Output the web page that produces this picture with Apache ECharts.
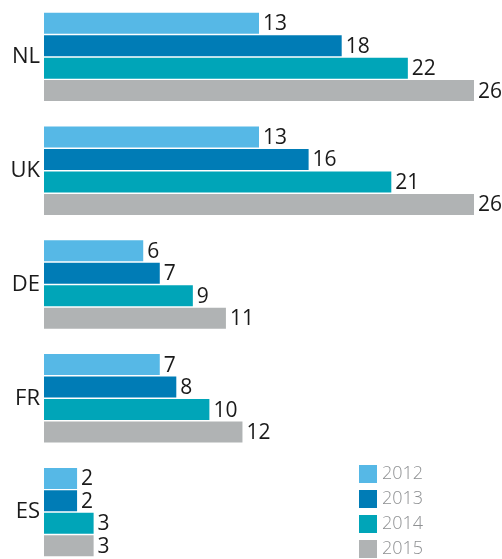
<!DOCTYPE html>
<html>
<head>
<meta charset="utf-8">
<script src="https://cdn.jsdelivr.net/npm/echarts@6/dist/echarts.min.js"></script>
<style>
  html, body { margin: 0; padding: 0; background: #fff; overflow: hidden; }
  #chart { width: 502px; height: 569px; }
</style>
</head>
<body>
<div id="chart"></div>
<script>
// Countries and yearly values
const countries = ['NL', 'UK', 'DE', 'FR', 'ES'];
const years = ['2012', '2013', '2014', '2015'];
const values2012 = [13, 13, 6, 7, 2];
const values2013 = [18, 16, 7, 8, 2];
const values2014 = [22, 21, 9, 10, 3];
const values2015 = [26, 26, 11, 12, 3];
const colors = ['#56b8e6', '#007cb6', '#00a5b8', '#b0b3b4'];

const seriesData = [values2012, values2013, values2014, values2015];

const chart = echarts.init(document.getElementById('chart'), null, { renderer: 'canvas' });

chart.setOption({
  animation: false,
  textStyle: { fontFamily: 'Open Sans' },
  grid: { left: 44, right: 28, top: 0, bottom: 0, containLabel: false },
  legend: {
    orient: 'vertical',
    left: 359,
    top: 465,
    padding: 0,
    itemWidth: 18,
    itemHeight: 18,
    itemGap: 7,
    icon: 'rect',
    textStyle: {
      color: '#8e9092',
      fontSize: 18,
      fontWeight: 300,
      fontFamily: 'Open Sans',
      padding: [3, 0, 0, 0]
    },
    data: years
  },
  xAxis: {
    type: 'value',
    min: 0,
    max: 26,
    show: false
  },
  yAxis: {
    type: 'category',
    inverse: true,
    data: countries,
    axisLine: { show: false },
    axisTick: { show: false },
    axisLabel: { color: '#1a1a1a', fontSize: 22, margin: 4, fontFamily: 'Open Sans' }
  },
  series: years.map((y, i) => ({
    name: y,
    type: 'bar',
    data: seriesData[i],
    barWidth: 21,
    barGap: '7%',
    itemStyle: { color: colors[i] },
    label: {
      show: true,
      position: 'right',
      distance: 4,
      color: '#1a1a1a',
      fontSize: 21,
      fontFamily: 'Open Sans',
      offset: [0, 1]
    }
  }))
});
</script>
</body>
</html>
